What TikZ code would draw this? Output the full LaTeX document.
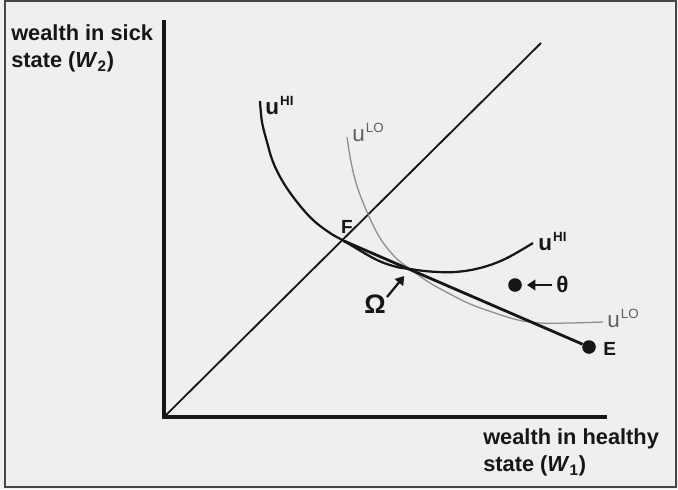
\documentclass[tikz,border=0pt]{standalone}
\usepackage{fontspec}
\setmainfont{Liberation Sans}
\usepackage{xcolor}
\usepackage{tikz}
\usetikzlibrary{arrows.meta,positioning,calc}
\definecolor{INSbg}{RGB}{239,239,239}
\definecolor{INSframe}{RGB}{70,70,70}
\definecolor{INSink}{RGB}{22,22,22}
\definecolor{INSlow}{RGB}{140,140,140}
\definecolor{INSlowtxt}{RGB}{95,95,95}
\newcommand{\ulab}[1]{u\raisebox{6pt}{\fontsize{9.5}{10}\selectfont\kern0.8pt #1}}
\tikzstyle{axisline} = [line width=2.6pt, draw=INSink]
\tikzstyle{diagline} = [line width=1.3pt, draw=INSink]
\tikzstyle{curvehi}  = [line width=1.6pt, draw=INSink]
\tikzstyle{curvelo}  = [line width=0.9pt, draw=INSlow]
\tikzstyle{budget}   = [line width=2.0pt, draw=INSink]
\tikzstyle{dotpt}    = [circle, fill=INSink, inner sep=0pt, minimum size=0.34cm]
\tikzstyle{axlbl}    = [align=left, inner sep=0pt, text=INSink,
                        font=\fontsize{15.5}{19.5}\selectfont\bfseries]
\tikzstyle{ptlbl}    = [inner sep=0pt, text=INSink,
                        font=\fontsize{13.5}{16}\selectfont\bfseries]
\tikzstyle{hilbl}    = [inner sep=0pt, text=INSink,
                        font=\fontsize{16}{19}\selectfont\bfseries]
\tikzstyle{lolbl}    = [inner sep=0pt, text=INSlowtxt,
                        font=\fontsize{16}{19}\selectfont]
\tikzstyle{pointer}  = [-{Triangle[length=6pt,width=7.5pt]}, line width=1.6pt, draw=INSink]

\begin{document}
\begin{tikzpicture}[x=0.025cm, y=-0.025cm]
  \useasboundingbox (0,0) rectangle (678,489);
  \fill[INSbg] (0,0) rectangle (678,489);
  \draw[INSframe, line width=0.8pt] (5,1) rectangle (676,487);

  % axes and certainty line
  \coordinate (O)    at (164,417);
  \coordinate (ytop) at (164,20);
  \coordinate (xend) at (607,417);
  \coordinate (diag) at (541,43);
  \draw[axisline] (ytop) -- (O) -- (xend);
  \draw[diagline] (O) -- (diag);

  \node[axlbl, anchor=north west] (ylab) at (11,24)
    {wealth in sick\\state (\textit{W}\textsubscript{2})};
  \node[axlbl, anchor=north west] (xlab) at (483,428)
    {wealth in healthy\\state (\textit{W}\textsubscript{1})};

  % key points
  \coordinate (F)  at (344,241);
  \coordinate (Om) at (410,269);
  \node[dotpt] (E)  at (589,347) {};
  \node[dotpt] (th) at (515,285) {};

  % indifference curves
  \draw[curvelo] plot[smooth, tension=0.6] coordinates {(347,137) (351,162)
    (357,186) (367,212) (380,238) (395,257) (Om) (430,283) (450,294)
    (470,304) (495,313) (518,320) (540,323) (570,323) (603,322)};
  \draw[curvehi] plot[smooth, tension=0.6] coordinates {(260,101) (262,122)
    (267,142) (273,162) (283,182) (297,202) (313,220) (330,233) (F)
    (375,259) (395,266.5) (Om) (430,271.5) (455,272) (480,268) (505,259)
    (533,243)};
  \draw[budget] (F) -- (E);

  % labels
  \node[hilbl, anchor=base west] (hiA) at (265,114) {\ulab{HI}};
  \node[hilbl, anchor=base west] (hiB) at (538,250) {\ulab{HI}};
  \node[lolbl, anchor=base west] (loA) at (352,141) {\ulab{LO}};
  \node[lolbl, anchor=base west] (loB) at (607,327) {\ulab{LO}};
  \node[ptlbl, anchor=base] (Flab) at (347,233) {F};
  \node[ptlbl, anchor=base west] (Elab) at (603,355) {E};
  \node[ptlbl, anchor=base west, font=\fontsize{16}{16}\selectfont\bfseries]
    (thlab) at (556,292) {θ};
  \node[ptlbl, anchor=base west, font=\fontsize{19}{19}\selectfont\bfseries]
    (omlab) at (364,313) {Ω};

  \coordinate (thtail) at (552,285);
  \coordinate (omtail) at (387,297);
  \draw[pointer, shorten >=3.5pt] (thtail) -- (th.east);
  \draw[pointer] (omtail) -- ($(Om)!0.25!(omtail)$);
\end{tikzpicture}
\end{document}
